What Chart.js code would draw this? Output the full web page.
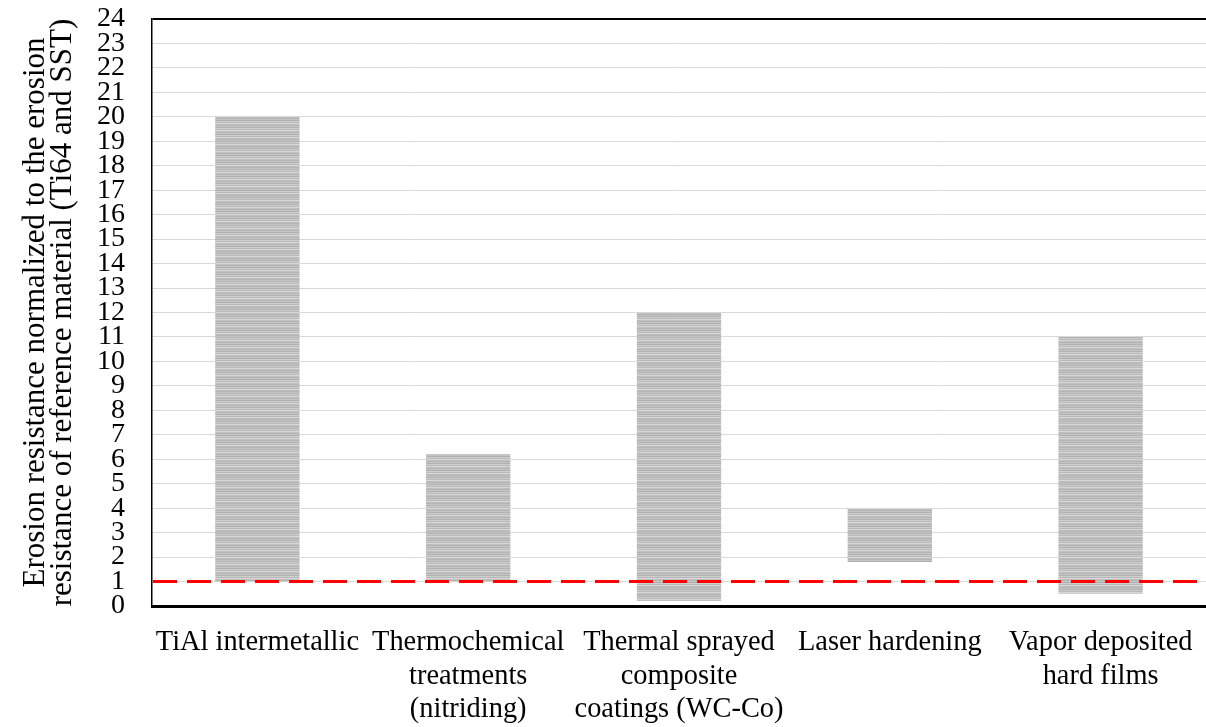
<!DOCTYPE html>
<html>
<head>
<meta charset="utf-8">
<script src="https://cdn.jsdelivr.net/npm/chart.js@4"></script>
<style>
  html, body { margin: 0; padding: 0; background: #fff; }
  #wrap { width: 1206px; height: 727px; position: relative; }
</style>
</head>
<body>
<div id="wrap"><canvas id="chart"></canvas></div>
<script>
/* ================= DATA ================= */
const categories = [
  "TiAl intermetallic",
  ["Thermochemical", "treatments", "(nitriding)"],
  ["Thermal sprayed", "composite", "coatings (WC-Co)"],
  "Laser hardening",
  ["Vapor deposited", "hard films"]
];
const rangeLow = [1, 1, 0.2, 1.8, 0.5];
const rangeHigh = [20, 6.2, 12, 4, 11];
const referenceLevel = 1;
const yTitle = [
  "Erosion resistance normalized to the erosion",
  "resistance of reference material (Ti64 and SST)"
];

/* ================= STRIPE PATTERN ================= */
function stripePattern() {
  const c = document.createElement("canvas");
  c.width = 4;
  c.height = 7;
  const g = c.getContext("2d");
  const rows = ["#c4c4c4", "#b1b1b1", "#cecece", "#b9b9b9", "#d7d7d7", "#bfbfbf", "#b5b5b5"];
  rows.forEach((col, i) => {
    g.fillStyle = col;
    g.fillRect(0, i, 4, 1);
  });
  return g.createPattern(c, "repeat");
}

/* ================= REFERENCE LINE ================= */
const refLine = {
  id: "refLine",
  afterDatasetsDraw(chart) {
    const { ctx, chartArea, scales } = chart;
    const y = scales.y.getPixelForValue(referenceLevel);
    ctx.save();
    ctx.strokeStyle = "#ff0000";
    ctx.lineWidth = 3;
    ctx.setLineDash([24, 10]);
    ctx.beginPath();
    ctx.moveTo(chartArea.left + 1, y);
    ctx.lineTo(chartArea.right, y);
    ctx.stroke();
    ctx.restore();
  }
};

const family = "'Liberation Serif', 'Times New Roman', serif";

new Chart(document.getElementById("chart").getContext("2d"), {
  type: "bar",
  data: {
    labels: categories,
    datasets: [{
      data: rangeLow.map((lo, i) => [lo, rangeHigh[i]]),
      backgroundColor: stripePattern(),
      borderWidth: 0,
      categoryPercentage: 1,
      barPercentage: 0.4
    }]
  },
  options: {
    responsive: true,
    maintainAspectRatio: false,
    animation: false,
    layout: { padding: { top: 19, right: 0, left: 0, bottom: 0 } },
    plugins: {
      legend: { display: false },
      tooltip: { enabled: false }
    },
    scales: {
      x: {
        grid: { display: false },
        border: { color: "#000", width: 3 },
        ticks: {
          color: "#000",
          font: { family, size: 28.4, lineHeight: 1.18 },
          maxRotation: 0,
          autoSkip: false,
          padding: 12
        },
        afterFit(s) {
          s.height = 121;
          s.paddingLeft = 0;
          s.paddingRight = 0;
        }
      },
      y: {
        min: 0,
        max: 24,
        grid: {
          drawTicks: false,
          color: (c) => c.tick && c.tick.value === 24 ? "#000" : "#d9d9d9",
          lineWidth: (c) => c.tick && c.tick.value === 24 ? 2 : 1
        },
        border: { color: "#000", width: 1.5 },
        ticks: {
          stepSize: 1,
          autoSkip: false,
          color: "#000",
          font: { family, size: 28, lineHeight: 1 },
          padding: 27
        },
        title: {
          display: true,
          text: yTitle,
          color: "#000",
          font: { family, size: 31, lineHeight: 0.87 },
          padding: { top: 22, bottom: 0 }
        },
        afterFit(s) {
          s.width = 152;
          s.paddingTop = 0;
          s.paddingBottom = 0;
        }
      }
    }
  },
  plugins: [refLine]
});
</script>
</body>
</html>
